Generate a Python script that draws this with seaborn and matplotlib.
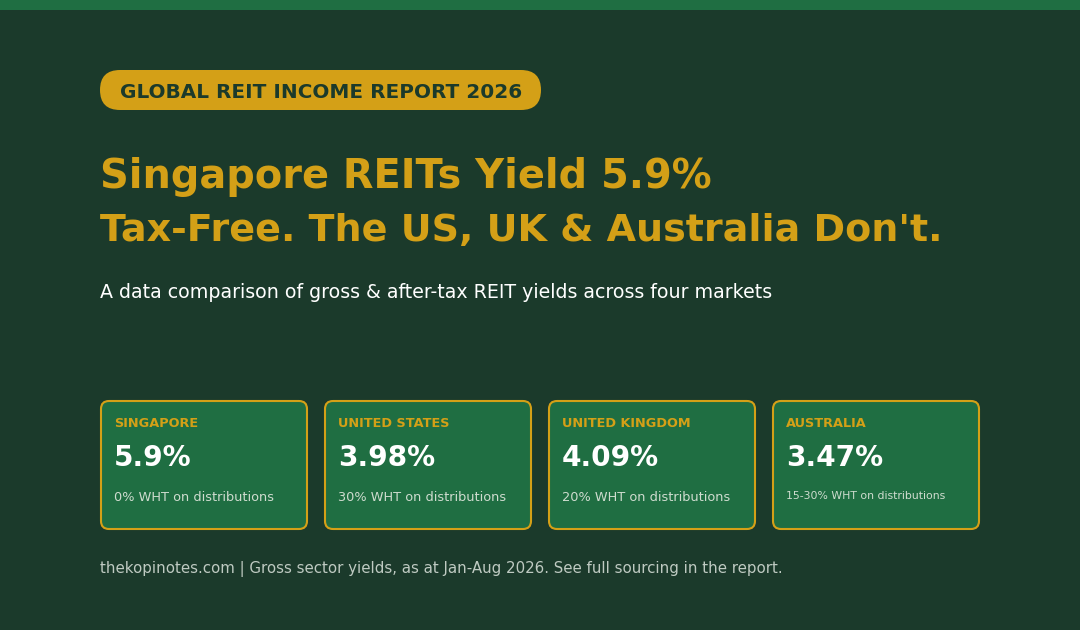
import matplotlib
matplotlib.use("Agg")
import matplotlib.pyplot as plt
from matplotlib.patches import FancyBboxPatch, Rectangle
import seaborn as sns

# card data
countries = ["SINGAPORE", "UNITED STATES", "UNITED KINGDOM", "AUSTRALIA"]
yields = [5.9, 3.98, 4.09, 3.47]
wht_notes = ["0% WHT on distributions", "30% WHT on distributions",
             "20% WHT on distributions", "15-30% WHT on distributions"]

badge_text = "GLOBAL REIT INCOME REPORT 2026"
title_lines = ["Singapore REITs Yield 5.9%", "Tax-Free. The US, UK & Australia Don't."]
subtitle = "A data comparison of gross & after-tax REIT yields across four markets"
footer = "thekopinotes.com | Gross sector yields, as at Jan-Aug 2026. See full sourcing in the report."

BG = "#1b3a2b"
GREEN = "#1f6e42"
GOLD = "#d4a017"

sns.set_theme(style="white", rc={"figure.facecolor": BG, "axes.facecolor": BG})
plt.rcParams["font.family"] = ["DejaVu Sans"]

fig = plt.figure(figsize=(10.8, 6.3), dpi=100)
ax = fig.add_axes([0, 0, 1, 1])
ax.set_xlim(0, 1080)
ax.set_ylim(630, 0)
ax.axis("off")

# top strip
ax.add_patch(Rectangle((0, 0), 1080, 10, color=GREEN, lw=0))

# badge
ax.add_patch(FancyBboxPatch((100, 70), 441, 40, boxstyle="round,pad=0,rounding_size=20",
                            fc=GOLD, ec="none"))
ax.text(120, 97.5, badge_text, color=BG, fontsize=14.4, fontweight="bold", va="baseline")

# headline
ax.text(100, 188, title_lines[0], color=GOLD, fontsize=28.7, fontweight="bold", va="baseline")
ax.text(100, 241, title_lines[1], color=GOLD, fontsize=27.4, fontweight="bold", va="baseline")
ax.text(100, 298, subtitle, color="white", fontsize=13.7, va="baseline")

# cards
card_w, card_h, gap = 206, 128, 18
for i, (name, val, note) in enumerate(zip(countries, yields, wht_notes)):
    x0 = 101 + i * (card_w + gap)
    ax.add_patch(FancyBboxPatch((x0, 401), card_w, card_h,
                                boxstyle="round,pad=0,rounding_size=8",
                                fc=GREEN, ec=GOLD, lw=1.5))
    ax.text(x0 + 13, 427, name, color=GOLD, fontsize=9.3, fontweight="bold", va="baseline")
    ax.text(x0 + 13, 466, f"{val:g}%", color="white", fontsize=20.2, fontweight="bold",
            va="baseline")
    small = len(note) > 24
    ax.text(x0 + 13, 499 if small else 501, note, color="#cfdccf",
            fontsize=7.8 if small else 9.3, va="baseline")

ax.text(100, 573, footer, color="#bfcac2", fontsize=10.8, va="baseline")

fig.savefig("out.png", dpi=100, facecolor=BG)
